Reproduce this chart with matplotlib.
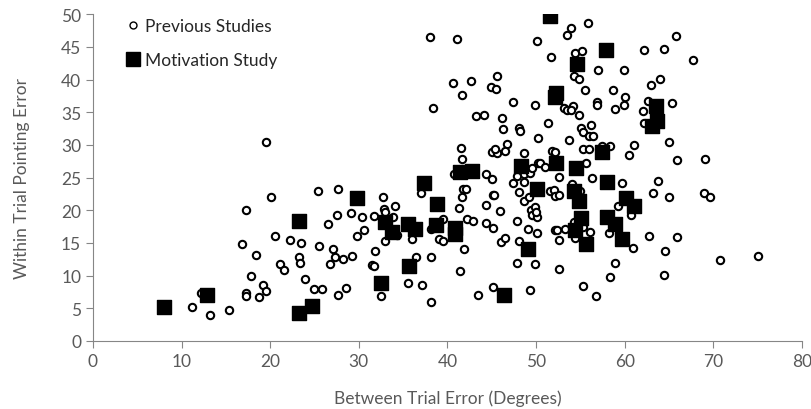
import matplotlib.pyplot as plt
from matplotlib.lines import Line2D

# Previous studies (open circles)
prev_x = [19.5, 20.1, 17.3, 16.8, 18.4, 17.8, 19.2, 19.5, 17.3, 17.3, 18.7, 12.2, 11.2, 13.2, 15.4,
          25.4, 27.7, 32.7, 20.5, 22.2, 23.5, 25.5, 26.5, 27.5, 29.1, 30.4, 31.7, 30.6, 29.8, 32.8,
          34.1, 33.0, 33.9, 33.0, 34.3, 36.0, 36.5, 35.6, 32.5, 21.1, 21.6, 23.3, 23.4, 23.9, 24.9,
          25.8, 27.7, 28.6, 27.1, 27.3, 28.2, 29.2, 26.8, 31.8, 31.5, 31.7, 38.0, 41.1, 50.1, 40.6,
          42.7, 41.7, 45.6, 44.9, 45.5, 47.4, 49.9, 38.4, 43.2, 44.1, 46.2, 46.3, 48.1, 48.2, 50.2,
          41.5, 41.7, 46.7, 45.0, 45.6, 45.4, 46.5, 48.6, 50.2, 40.7, 44.3, 45.0, 47.8, 48.6, 49.3,
          49.5, 37.0, 39.5, 38.1, 39.0, 39.5, 41.9, 41.4, 38.1, 37.1, 38.2, 43.4, 45.1, 49.3, 41.8,
          42.1, 41.7, 41.3, 42.2, 42.9, 45.1, 45.3, 44.4, 45.9, 44.4, 45.2, 46.0, 46.5, 47.4, 48.6,
          48.1, 48.6, 49.2, 49.4, 49.9, 49.6, 50.1, 47.9, 49.1, 48.1, 47.8, 49.9, 50.1, 53.9, 53.5,
          55.9, 54.4, 55.2, 51.7, 54.3, 54.9, 57.0, 59.9, 62.2, 64.4, 65.8, 63.0, 64.0, 55.5, 58.7,
          60.0, 53.2, 53.5, 54.2, 54.0, 54.8, 56.9, 56.9, 58.9, 59.9, 62.1, 62.6, 62.2, 65.3, 51.4,
          55.1, 55.3, 56.2, 56.0, 56.4, 53.7, 55.3, 56.0, 57.4, 58.4, 61.1, 60.5, 65.0, 65.9, 51.8,
          52.1, 50.4, 51.0, 55.6, 52.6, 56.3, 59.7, 63.8, 63.2, 65.0, 59.3, 60.7, 51.6, 52.0, 52.1,
          52.6, 54.1, 55.0, 50.0, 54.3, 55.3, 54.4, 56.1, 53.3, 52.1, 52.4, 52.6, 58.2, 60.9, 62.7,
          65.9, 64.5, 64.4, 58.9, 58.3, 55.3, 56.8, 52.6, 67.7, 69.1, 69.0, 69.6, 70.8, 75.1]
prev_y = [30.5, 22.0, 20.1, 14.8, 13.1, 9.9, 8.5, 7.6, 7.4, 6.8, 6.7, 7.4, 5.2, 3.9, 4.7,
          23.0, 23.2, 22.1, 16.1, 15.4, 15.0, 14.5, 17.9, 19.2, 19.6, 19.0, 19.1, 17.0, 16.1, 20.2,
          20.6, 19.7, 18.9, 15.3, 16.2, 15.6, 12.9, 8.8, 6.8, 11.8, 10.8, 12.8, 12.0, 9.5, 7.9,
          7.9, 7.1, 8.1, 14.1, 12.8, 12.5, 13.0, 11.7, 13.8, 11.6, 11.4, 46.5, 46.2, 45.9, 39.4,
          39.8, 37.6, 40.5, 38.8, 38.5, 36.5, 36.1, 35.6, 34.4, 34.5, 34.1, 32.4, 32.6, 32.1, 31.1,
          29.5, 27.8, 30.1, 28.9, 28.7, 29.3, 29.1, 28.7, 27.2, 25.6, 25.5, 24.8, 25.3, 25.5, 25.7,
          26.4, 22.6, 18.7, 17.2, 15.6, 15.3, 14.1, 10.7, 12.9, 8.6, 5.9, 7.1, 8.2, 7.8, 23.2,
          23.3, 22.0, 20.3, 18.7, 18.3, 22.3, 22.4, 20.8, 19.9, 18.0, 17.3, 15.2, 15.7, 24.1, 24.3,
          22.8, 21.4, 22.0, 20.1, 20.5, 19.2, 19.0, 18.3, 17.1, 15.3, 12.0, 11.7, 16.5, 47.9, 46.8,
          48.7, 44.1, 44.4, 43.4, 40.6, 40.1, 41.5, 41.4, 44.5, 44.6, 46.7, 39.1, 40.1, 38.4, 38.4,
          37.3, 35.7, 35.3, 35.9, 35.3, 34.6, 36.6, 36.1, 35.5, 36.1, 35.2, 36.7, 33.4, 36.4, 33.4,
          32.6, 32.0, 33.0, 31.4, 31.4, 30.7, 29.4, 29.3, 29.9, 29.9, 30.0, 28.5, 30.4, 27.7, 29.1,
          28.9, 27.3, 26.6, 27.2, 25.1, 24.9, 24.2, 24.5, 22.7, 22.1, 20.7, 19.3, 23.0, 23.1, 22.2,
          22.3, 24.0, 23.0, 19.7, 18.2, 17.5, 15.7, 16.7, 17.2, 16.9, 17.0, 15.4, 16.5, 14.2, 16.0,
          15.9, 13.8, 10.1, 12.0, 9.8, 8.4, 6.9, 11.0, 43.0, 27.8, 22.7, 22.0, 12.4, 13.0]

# Motivation study (filled squares)
motiv_x = [8.0, 12.9, 23.2, 23.3, 24.7, 29.8, 32.5, 33.0, 33.7, 35.5, 36.3, 35.7, 37.4, 38.8, 38.7,
           40.8, 40.8, 41.4, 42.8, 46.4, 48.3, 49.1, 50.1, 51.6, 52.3, 52.1, 54.6, 57.9, 57.4, 52.3,
           54.5, 58.0, 60.2, 61.1, 54.3, 54.8, 55.1, 54.4, 55.6, 58.0, 58.9, 59.7, 63.5, 63.7, 63.1]
motiv_y = [5.2, 7.0, 18.3, 4.3, 5.3, 21.9, 8.9, 18.2, 16.6, 17.9, 17.1, 11.5, 24.2, 20.9, 17.7,
           17.3, 16.3, 25.9, 26.0, 7.1, 26.8, 14.1, 23.3, 49.7, 38.0, 37.4, 42.3, 44.5, 28.9, 27.2,
           26.4, 24.3, 21.8, 20.7, 23.0, 21.4, 18.8, 16.9, 14.8, 18.9, 17.9, 15.6, 35.9, 33.7, 32.9]

plt.rcParams['font.family'] = ['Lato', 'DejaVu Sans']
gray = '#595959'
axis_gray = '#868686'

fig = plt.figure(figsize=(8.12, 4.10), dpi=100)
ax = fig.add_axes([0.1145, 0.166, 0.873, 0.797])

ax.scatter(prev_x, prev_y, s=28, facecolors='white', edgecolors='black', linewidths=1.5, zorder=2)
ax.scatter(motiv_x, motiv_y, s=105, marker='s', color='black', zorder=3)

ax.set_xlim(0, 80)
ax.set_ylim(0, 50)
ax.set_xticks(range(0, 81, 10))
ax.set_yticks(range(0, 51, 5))
ax.tick_params(colors=axis_gray, labelcolor=gray, labelsize=12.5, length=5, direction='out')

for side in ['top', 'right']:
    ax.spines[side].set_visible(False)
for side in ['left', 'bottom']:
    ax.spines[side].set_color(axis_gray)

ax.set_xlabel('Between Trial Error (Degrees)', fontsize=12.5, color=gray, labelpad=15)
ax.set_ylabel('Within Trial Pointing Error', fontsize=12.5, color=gray, labelpad=22)

handles = [
    Line2D([], [], linestyle='none', marker='o', markersize=5, markerfacecolor='white',
           markeredgecolor='black', markeredgewidth=1),
    Line2D([], [], linestyle='none', marker='s', markersize=10, color='black'),
]
ax.legend(handles, ['Previous Studies', 'Motivation Study'], loc='upper left',
          bbox_to_anchor=(0.022, 1.035), frameon=False, fontsize=12.5, handletextpad=0.2,
          handlelength=1.0, labelspacing=1.0, labelcolor='#262626')

fig.savefig('out.png', dpi=100)
